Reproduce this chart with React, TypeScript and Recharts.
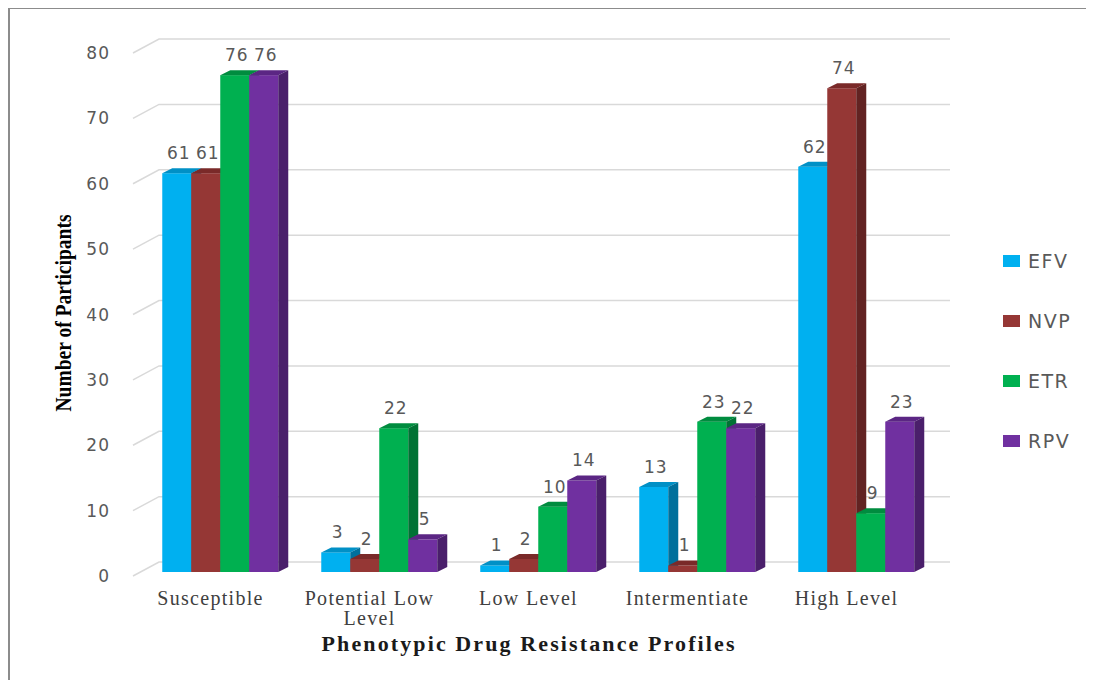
import { BarChart, Bar, XAxis, YAxis, CartesianGrid, LabelList } from 'recharts';

const categories = ['Susceptible', 'Potential Low Level', 'Low Level', 'Intermentiate', 'High Level'];
const efv = [61, 3, 1, 13, 62];
const nvp = [61, 2, 2, 1, 74];
const etr = [76, 22, 10, 23, 9];
const rpv = [76, 5, 14, 22, 23];
const yTicks = [0, 10, 20, 30, 40, 50, 60, 70, 80];

const series = [
  { key: 'EFV', values: efv, front: '#00B0F0', top: '#0090C6', side: '#00709C' },
  { key: 'NVP', values: nvp, front: '#953735', top: '#7A2A29', side: '#622322' },
  { key: 'ETR', values: etr, front: '#00B050', top: '#008C3F', side: '#007234' },
  { key: 'RPV', values: rpv, front: '#7030A0', top: '#5B2684', side: '#4A1F6B' },
];

const data = categories.map((name, i) => {
  const row: Record<string, string | number> = { name };
  series.forEach((s) => { row[s.key] = s.values[i]; });
  return row;
});

// depth of the fake 3D extrusion
const DX = 10;
const DY = 5;

const SANS = '"DejaVu Sans", Verdana, sans-serif';
const SERIF = '"Liberation Serif", "Times New Roman", serif';

function Box3D(props: any) {
  const { x, y, width, height, fill, top, side } = props;
  if (width == null || height == null) return null;
  const r = x + width;
  const b = y + height;
  return (
    <g>
      <rect x={x} y={y} width={width} height={height} fill={fill} />
      <polygon points={`${x},${y} ${x + DX},${y - DY} ${r + DX},${y - DY} ${r},${y}`} fill={top} />
      <polygon points={`${r},${y} ${r + DX},${y - DY} ${r + DX},${b - DY} ${r},${b}`} fill={side} />
    </g>
  );
}

function ValueLabel(props: any) {
  const { x, y, width, value } = props;
  return (
    <text x={x + width / 2 + 2} y={y - 14} textAnchor="middle" fontFamily={SANS} fontSize={17} letterSpacing={1} fill="#595959">
      {value}
    </text>
  );
}

// back-wall gridline with the short diagonal running to the front edge
function GridLine(props: any) {
  const { x1, x2, y1, index } = props;
  return (
    <path
      key={`grid-${index}`}
      d={`M${x1 - 7},${y1 + 4} L${x1 + 19},${y1 - 10} L${x2 + 15},${y1 - 10}`}
      fill="none"
      stroke="#d9d9d9"
      strokeWidth={1.5}
    />
  );
}

function wrap(label: string) {
  if (label.length <= 14) return [label];
  const words = label.split(' ');
  return [words.slice(0, -1).join(' '), words[words.length - 1]];
}

function CategoryTick(props: any) {
  const { x, y, payload } = props;
  const lines = wrap(payload.value);
  return (
    <text x={x - 9} y={y + 31} textAnchor="middle" fontFamily={SERIF} fontSize={20} letterSpacing={1.3} fill="#404040">
      {lines.map((l, i) => (
        <tspan key={l} x={x - 9} dy={i === 0 ? 0 : 20}>{l}</tspan>
      ))}
    </text>
  );
}

function ValueTick(props: any) {
  const { x, y, payload } = props;
  return (
    <text x={x} y={y + 4} textAnchor="end" dominantBaseline="central" fontFamily={SANS} fontSize={17} letterSpacing={1} fill="#595959">
      {payload.value}
    </text>
  );
}

function SeriesLegend() {
  return (
    <div style={{ position: 'absolute', left: 993, top: 222, fontFamily: SANS, fontSize: 19, letterSpacing: 1.5, color: '#595959' }}>
      {series.map((s) => (
        <div key={s.key} style={{ height: 60, display: 'flex', alignItems: 'center' }}>
          <span style={{ display: 'inline-block', width: 17, height: 12, background: s.front, marginRight: 8 }} />
          <span>{s.key}</span>
        </div>
      ))}
    </div>
  );
}

export default function App() {
  return (
    <div
      style={{
        position: 'relative',
        width: 1086,
        height: 673,
        borderLeft: '2px solid #8c8c8c',
        borderTop: '2px solid #8c8c8c',
        boxSizing: 'border-box',
        background: '#fff',
        marginTop: -1,
      }}
    >
      <BarChart
        width={1078}
        height={669}
        data={data}
        margin={{ top: 40, right: 153, bottom: 76, left: 70 }}
        barCategoryGap="14%"
        barGap={0}
      >
        <CartesianGrid vertical={false} horizontal={GridLine} />
        <XAxis
          dataKey="name"
          axisLine={false}
          tickLine={false}
          tickSize={0}
          height={30}
          interval={0}
          tick={CategoryTick}
          label={{
            content: () => (
              <text x={518} y={642} textAnchor="middle" fontFamily={SERIF} fontWeight="bold" fontSize={22} textLength={413} lengthAdjust="spacing" fill="#1a1a1a">
                Phenotypic Drug Resistance Profiles
              </text>
            ),
          }}
        />
        <YAxis
          domain={[0, 80]}
          ticks={yTicks}
          width={60}
          axisLine={false}
          tickLine={false}
          tickSize={0}
          tickMargin={30}
          tick={ValueTick}
          label={{
            content: () => (
              <text
                x={53}
                y={304}
                transform="rotate(-90 53 304)"
                textAnchor="middle"
                dominantBaseline="central"
                fontFamily={SERIF}
                fontWeight="bold"
                fontSize={24}
                textLength={197}
                lengthAdjust="spacingAndGlyphs"
                fill="#000"
              >
                Number of Participants
              </text>
            ),
          }}
        />
        {series.map((s) => (
          <Bar
            key={s.key}
            dataKey={s.key}
            fill={s.front}
            isAnimationActive={false}
            shape={(p: any) => <Box3D {...p} top={s.top} side={s.side} />}
          >
            <LabelList dataKey={s.key} content={ValueLabel} />
          </Bar>
        ))}
      </BarChart>
      <SeriesLegend />
    </div>
  );
}
